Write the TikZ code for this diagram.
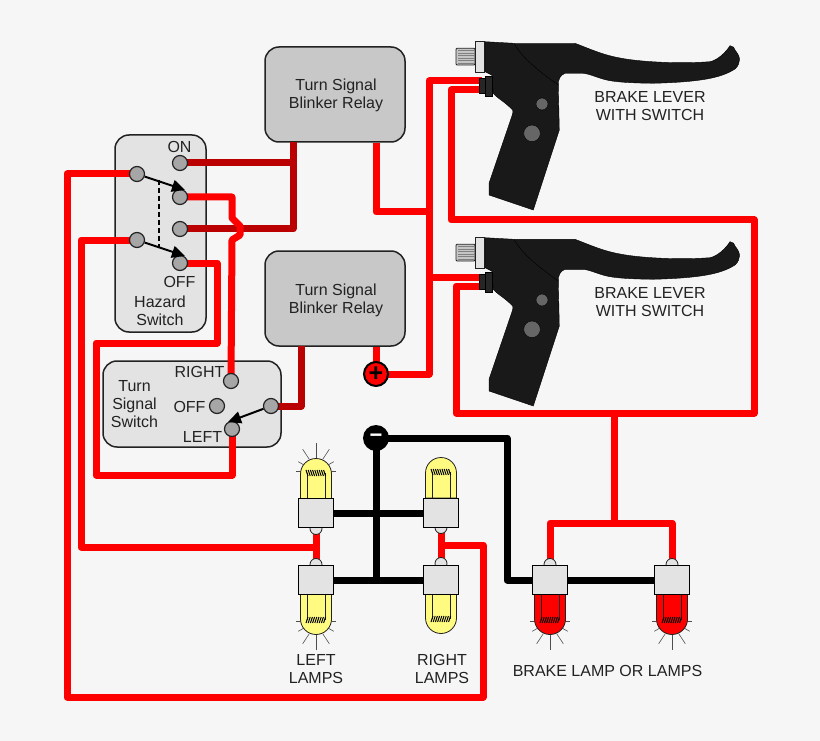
\documentclass[tikz,border=0pt]{standalone}
\usepackage{fontspec}
\setmainfont{Liberation Sans}
\usetikzlibrary{arrows.meta,backgrounds}

\definecolor{pagegray}{HTML}{F6F6F6}
\definecolor{boxgray}{HTML}{E3E3E3}
\definecolor{relaygray}{HTML}{C8C8C8}
\definecolor{pingray}{HTML}{A6A6A6}
\definecolor{darkred}{HTML}{BA0000}
\definecolor{lampyellow}{HTML}{FFFB80}
\definecolor{edgeblack}{HTML}{222222}

% one lamp: x, y of the glass end of the base, direction, colour
\newcommand{\lampbulb}[4]{
  \begin{scope}[shift={(#1,#2)},yscale=#3]
    \draw[edgeblack,thick,fill=#4] (-15.5,0) -- (-15.5,25) arc[start angle=180,end angle=0,radius=15.5] -- (15.5,0) -- cycle;
    \draw[edgeblack,thick] (-9,0) -- (-9,26) (9,0) -- (9,26);
    \foreach \t in {-9,-6.8,...,9.5}
      \draw[black,line width=1pt] (\t-1,29) -- (\t+1,23);
    \draw[edgeblack,thick,fill=boxgray] (0,-29.5) circle (6);
  \end{scope}
}
% rays round a lit lamp
\newcommand{\lamprays}[3]{
  \begin{scope}[shift={(#1,#2)},yscale=#3]
    \draw[edgeblack!80,semithick] (0,40) -- (0,56);
    \foreach \s in {-1,1} {
      \draw[edgeblack!80,semithick] (\s*6.7,39.7) -- (\s*13.3,49.7);
      \draw[edgeblack!80,semithick] (\s*12,34) -- (\s*17.7,37.3);
      \draw[edgeblack!80,semithick] (\s*15.3,27.3) -- (\s*20.3,27.3);
    }
  \end{scope}
}

\tikzset{
brakelever/.pic={
  \draw[edgeblack,thick,fill=boxgray!70!gray,rounded corners=1] (456,48.3) rectangle (475,65);
  \foreach \t in {50.5,53,...,63}
    \draw[gray] (458,\t) -- (475,\t);
  \draw[edgeblack,thick,fill=boxgray] (475.7,41.7) rectangle (484.3,72.3);
  \fill[black!90,draw=black] (485,41.7) -- (514,43.3) -- (575,43.3)
    .. controls (590,49) and (603,55) .. (620,58) .. controls (640,62) and (680,64) .. (710,61.7)
    .. controls (718,60) and (726,52) .. (730,45.7) .. controls (733,46) and (735,48) .. (735,50)
    .. controls (738,54) and (740,57) .. (739.3,60.7) .. controls (739,65) and (736,69) .. (733.3,70)
    .. controls (720,78) and (700,82) .. (653.3,83.3) .. controls (630,83) and (615,82) .. (606.7,80)
    .. controls (598,78) and (590,74) .. (583.3,73.3) -- (565,73.3)
    .. controls (560,75) and (558,80) .. (558.3,85)
    -- (559.3,130) -- (533.3,210) -- (489,195) -- (489,183.3) -- (511.7,116.7)
    .. controls (513,113) and (513,112) .. (512.7,110)
    .. controls (505,102) and (497,98) .. (493.3,93.3) -- (491.7,75) -- (485,71.7) -- cycle;
  \draw[black] (514,43.3) .. controls (522,58) and (540,72) .. (558.3,85);
  \fill[black!85,draw=black] (479.3,78.3) rectangle (485,93.3);
  \fill[black!85,draw=black] (485,76) rectangle (491.7,96);
  \draw[black,fill=black!60] (542,104) circle (6);
  \draw[black,fill=black!60] (532,133.3) circle (8.3);
}}

\begin{document}
\begin{tikzpicture}[x=1pt,y=-1pt,
labeltext/.style={font=\fontsize{16}{18}\selectfont,text=edgeblack,align=center,inner sep=0pt},
relaybox/.style={rectangle,draw=edgeblack,line width=1.5pt,fill=relaygray,rounded corners=14pt,minimum width=140pt,minimum height=95pt,inner sep=0pt},
switchbox/.style={rectangle,draw=edgeblack,line width=1.5pt,fill=boxgray,rounded corners=14pt,inner sep=0pt},
pin/.style={circle,draw=edgeblack,line width=1.2pt,fill=pingray,minimum size=15pt,inner sep=0pt},
lampbase/.style={rectangle,draw=black,line width=1.2pt,fill=boxgray,minimum width=35pt,minimum height=29pt,inner sep=0pt},
redwire/.style={draw=red,line width=7pt,line join=round},
darkwire/.style={draw=darkred,line width=7pt,line join=round},
blackwire/.style={draw=black,line width=7pt,line join=round},
lever arrow/.style={-{Triangle[length=13pt,width=12pt]},black,line width=2pt}
]
\useasboundingbox (0,0) rectangle (820,741);

%Boxes
\begin{scope}[on background layer]
\fill[pagegray] (0,0) rectangle (820,741);
\node[switchbox,minimum width=91pt,minimum height=197pt] at (160.5,233.5) (HAZARD) {};
\node[switchbox,minimum width=178pt,minimum height=86pt] at (192,404) (TURN) {};
\node[relaybox] at (335,94.5) (RELAY-1) {};
\node[relaybox] at (335,298.5) (RELAY-2) {};
\end{scope}

%Nodes
\node[labeltext] at (336,95.5) (RELAY-1-TEXT) {Turn Signal\\Blinker Relay};
\node[labeltext] at (336,300.5) (RELAY-2-TEXT) {Turn Signal\\Blinker Relay};

\node[pin] at (180,163) (HAZ-ON) {};
\node[pin] at (180,197) (HAZ-B) {};
\node[pin] at (180,229) (HAZ-C) {};
\node[pin] at (180,263) (HAZ-OFF) {};
\node[pin] at (137,174) (HAZ-L1) {};
\node[pin] at (137,240) (HAZ-L2) {};
\node[labeltext] at (179.5,147) (HAZ-ON-TEXT) {ON};
\node[labeltext] at (179.5,282) (HAZ-OFF-TEXT) {OFF};
\node[labeltext] at (160,311) (HAZ-TEXT) {Hazard\\Switch};

\node[pin] at (231,381) (TURN-RIGHT) {};
\node[pin] at (217,406) (TURN-OFF) {};
\node[pin] at (232,429) (TURN-LEFT) {};
\node[pin] at (271,406) (TURN-COM) {};
\node[labeltext] at (199.5,372) (TURN-RIGHT-TEXT) {RIGHT};
\node[labeltext] at (189.5,407) (TURN-OFF-TEXT) {OFF};
\node[labeltext] at (202.5,437) (TURN-LEFT-TEXT) {LEFT};
\node[labeltext] at (134.5,404.5) (TURN-TEXT) {Turn\\Signal\\Switch};

\node[circle,draw=black,line width=2pt,fill=red,minimum size=24pt,inner sep=0pt,font=\fontsize{25}{25}\selectfont\bfseries] at (376,374) (PLUS) {+};
\node[circle,fill=black,minimum size=26pt,inner sep=0pt,text=white,font=\fontsize{22}{22}\selectfont\bfseries] at (376,438) (MINUS) {−};

\pic at (0,0) {brakelever};
\pic at (0,196) {brakelever};
\node[labeltext] at (650,106) (LEVER-1-TEXT) {BRAKE LEVER\\WITH SWITCH};
\node[labeltext] at (650,302) (LEVER-2-TEXT) {BRAKE LEVER\\WITH SWITCH};
\coordinate (LEVER-1A) at (482,81);
\coordinate (LEVER-1B) at (482,90);
\coordinate (LEVER-2A) at (482,277);
\coordinate (LEVER-2B) at (482,286);

\lamprays{316}{499}{-1}
\lamprays{316}{594}{1}
\lamprays{550}{594}{1}
\lamprays{672}{594}{1}
\lampbulb{316}{499}{-1}{lampyellow}
\lampbulb{316}{594}{1}{lampyellow}
\lampbulb{441}{498}{-1}{lampyellow}
\lampbulb{441}{593}{1}{lampyellow}
\lampbulb{550}{594}{1}{red}
\lampbulb{672}{594}{1}{red}
\node[lampbase] at (316,513) (LAMP-LU) {};
\node[lampbase] at (316,580) (LAMP-LD) {};
\node[lampbase] at (441,513) (LAMP-RU) {};
\node[lampbase] at (441,580) (LAMP-RD) {};
\node[lampbase] at (550,580) (LAMP-B1) {};
\node[lampbase] at (672,580) (LAMP-B2) {};
\node[labeltext] at (316,669) (LEFT-TEXT) {LEFT\\LAMPS};
\node[labeltext] at (442,669) (RIGHT-TEXT) {RIGHT\\LAMPS};
\node[labeltext] at (607.5,671) (BRAKE-TEXT) {BRAKE LAMP OR LAMPS};

%Joins
\coordinate (joinHAZ) at (293,163);
\coordinate (joinLEVER) at (429,212);
\coordinate (joinLEFT) at (316,547);
\coordinate (joinRIGHT) at (441,545);
\coordinate (joinLOOP) at (614,413);
\coordinate (joinBRAKE) at (614,523);
\coordinate (joinMINUS) at (376,580);

%Lines
\begin{scope}[on background layer]
\draw[darkwire] (HAZ-ON.center) -- (293,163) -- (293,142);
\draw[darkwire] (HAZ-C.center) -- (293,229) -- (joinHAZ);
\draw[darkwire] (TURN-COM.center) -- (301,406) -- (301,346);

\draw[redwire] (HAZ-B.center) -- (232,197) -- (232,218) -- (240,226) -- (240,235) -- (232,240) -- (TURN-RIGHT.center);
\draw[redwire] (HAZ-OFF.center) -- (217,263) -- (217,343) -- (96,343) -- (96,475) -- (232,475) -- (TURN-LEFT.center);
\draw[redwire] (HAZ-L1.center) -- (67,174) -- (67,697) -- (483,697) -- (483,545) -- (joinRIGHT);
\draw[redwire] (HAZ-L2.center) -- (81,240) -- (81,547) -- (joinLEFT);

\draw[redwire] (RELAY-1.south -| PLUS) -- (376,212) -- (joinLEVER);
\draw[redwire] (RELAY-2.south -| PLUS) -- (PLUS.center);
\draw[redwire] (PLUS.center) -- (429,374) -- (429,81) -- (LEVER-1A);
\draw[redwire] (429,277) -- (LEVER-2A);
\draw[redwire] (LEVER-1B) -- (451,90) -- (451,220) -- (754,220) -- (754,413) -- (456,413) -- (456,286) -- (LEVER-2B);
\draw[redwire] (joinLOOP) -- (joinBRAKE);
\draw[redwire] (LAMP-B1.center) -- (550,523) -- (672,523) -- (LAMP-B2.center);
\draw[redwire] (LAMP-LU.center) -- (LAMP-LD.center);
\draw[redwire] (LAMP-RU.center) -- (LAMP-RD.center);

\draw[blackwire] (LAMP-LU.center) -- (LAMP-RU.center);
\draw[blackwire] (LAMP-LD.center) -- (LAMP-RD.center);
\draw[blackwire] (MINUS.center) -- (joinMINUS);
\draw[blackwire] (MINUS.center) -- (507,438) -- (507,580) -- (LAMP-B1.center);
\draw[blackwire] (LAMP-B1.center) -- (LAMP-B2.center);
\end{scope}

\draw[black,line width=1.6pt,dash pattern=on 5pt off 3pt] (159,180) -- (159,247);
\draw[lever arrow] (HAZ-L1) -- (185,190);
\draw[lever arrow] (HAZ-L2) -- (185,256);
\draw[lever arrow] (TURN-COM) -- (228,422);

\end{tikzpicture}
\end{document}
